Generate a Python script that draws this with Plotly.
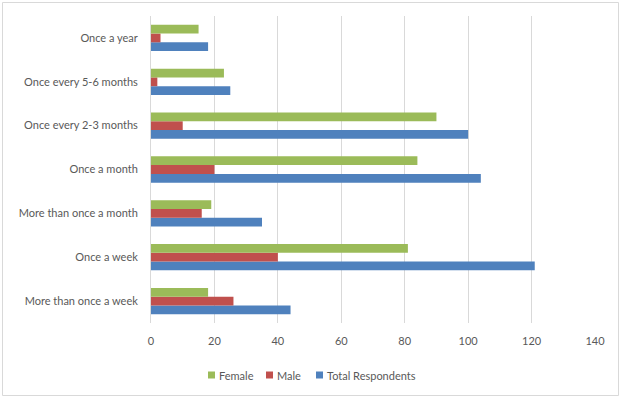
import plotly.graph_objects as go

categories = ["More than once a week", "Once a week", "More than once a month",
              "Once a month", "Once every 2-3 months", "Once every 5-6 months", "Once a year"]
total = [44, 121, 35, 104, 100, 25, 18]
male = [26, 40, 16, 20, 10, 2, 3]
female = [18, 81, 19, 84, 90, 23, 15]
x_ticks = [0, 20, 40, 60, 80, 100, 120, 140]

legend_names = ["Female", "Male", "Total Respondents"]
legend_colors = ["#9BBB59", "#C0504D", "#4F81BD"]

W, H = 621, 398
L, R, T, B = 151, 26, 16, 75
pw, ph = W - L - R, H - T - B

font = dict(family="Lato", size=11, color="#595959")

fig = go.Figure()
fig.add_trace(go.Bar(y=categories, x=total, orientation="h", name="Total Respondents",
                     marker=dict(color="#4F81BD", line=dict(width=0))))
fig.add_trace(go.Bar(y=categories, x=male, orientation="h", name="Male",
                     marker=dict(color="#C0504D", line=dict(width=0))))
fig.add_trace(go.Bar(y=categories, x=female, orientation="h", name="Female",
                     marker=dict(color="#9BBB59", line=dict(width=0))))

def px_x(p):
    return (p - L) / pw

def px_y(p):
    return 1 - (p - T) / ph

fig.add_shape(type="rect", xref="paper", yref="paper",
              x0=px_x(2.5), x1=px_x(618.5), y0=px_y(395.5), y1=px_y(2.5),
              line=dict(color="#D9D9D9", width=1), fillcolor="rgba(0,0,0,0)", layer="below")

# legend drawn as squares + text
leg_x = [208, 266, 316]
leg_y = 375
for xs, name, col in zip(leg_x, legend_names, legend_colors):
    fig.add_shape(type="rect", xref="paper", yref="paper",
                  x0=px_x(xs), x1=px_x(xs + 7), y0=px_y(leg_y + 3.5), y1=px_y(leg_y - 3.5),
                  line=dict(width=0), fillcolor=col)
    fig.add_annotation(xref="paper", yref="paper", x=px_x(xs + 9), y=px_y(leg_y),
                       xanchor="left", yanchor="middle", text=name, showarrow=False,
                       font=font)

fig.update_layout(
    width=W, height=H,
    margin=dict(l=L, r=R, t=T, b=B, pad=0, autoexpand=False),
    barmode="group", bargap=0.4, bargroupgap=0,
    paper_bgcolor="white", plot_bgcolor="white",
    font=font,
    showlegend=False,
    xaxis=dict(range=[0, 140], tickvals=x_ticks, showgrid=True, gridcolor="#D9D9D9",
               gridwidth=1, zeroline=False, showline=False, ticks="", tickfont=font,
               ticklabelstandoff=10, automargin=False),
    yaxis=dict(type="category", categoryorder="array", categoryarray=categories,
               showgrid=False, zeroline=False, showline=True, linecolor="#D9D9D9",
               ticks="", tickfont=font, ticklabelstandoff=10, automargin=False),
)

fig.write_html("out.html", config={"displayModeBar": False},
               post_script="document.body.style.margin='0';document.body.style.overflow='hidden';")
